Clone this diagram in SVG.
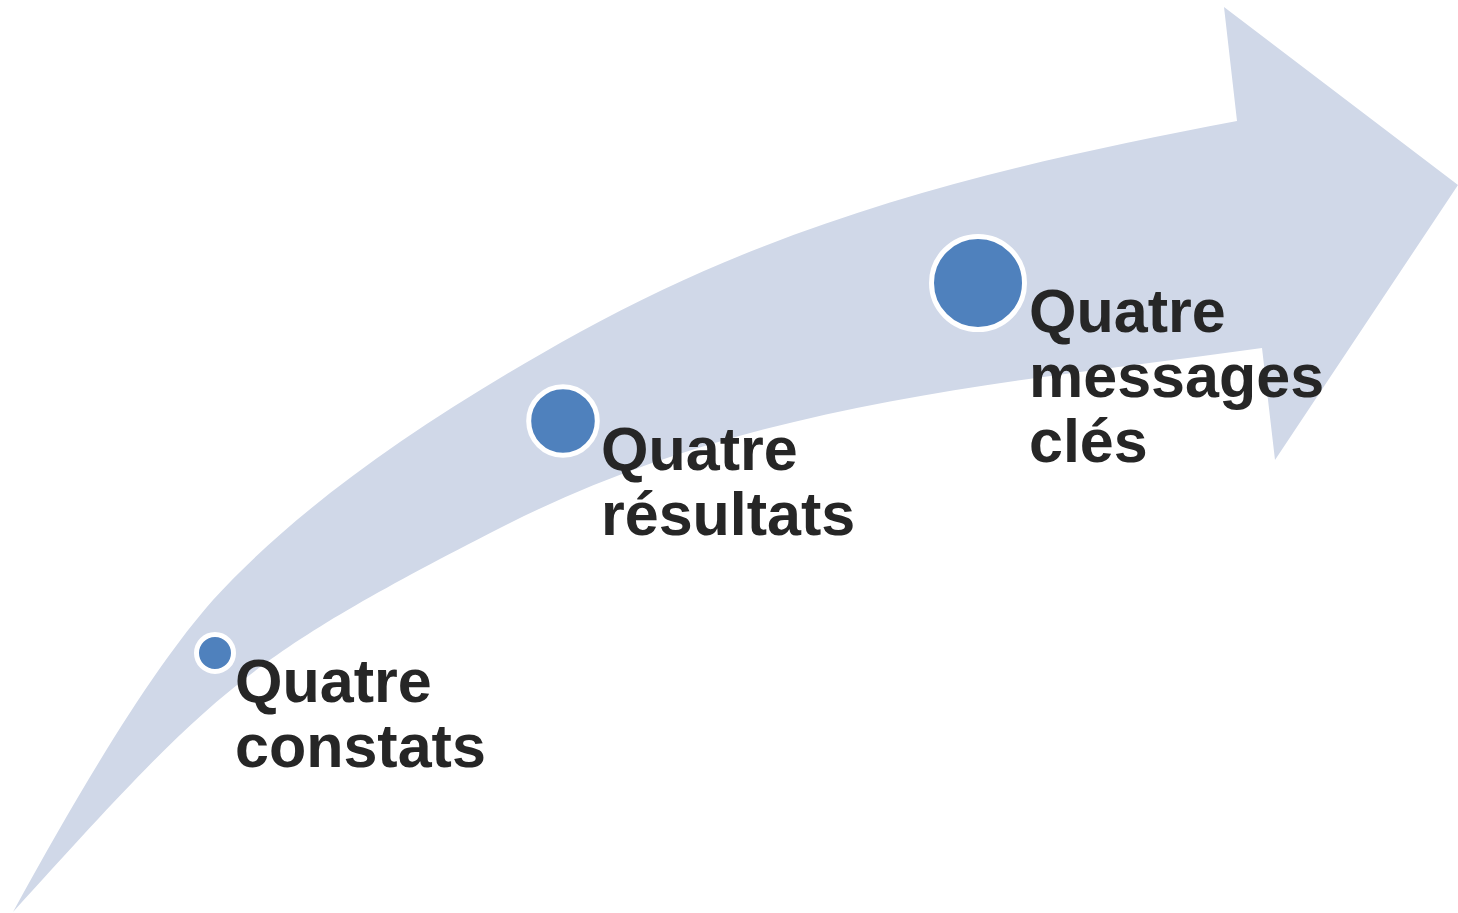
<svg xmlns="http://www.w3.org/2000/svg" width="1458" height="913" viewBox="0 0 1458 913">
  <style>
    .band { fill: #D0D8E8; stroke: none; }
    .dot { fill: #4F81BD; stroke: #FFFFFF; stroke-width: 5; }
    .lbl { font-family: "Liberation Sans", Arial, sans-serif; font-weight: bold; font-size: 61px; fill: #262626; }
  </style>
  <rect width="1458" height="913" fill="#FFFFFF"/>
  <g id="arrow">
    <path class="band" d="M13,912 C95,762 160,660 213,600 C293,512 415,423 580,332 C800,211 1017,163 1237,121 L1224,7 L1458,185 L1275,460 L1262,348 C1012,383 750,400 500,528 C240,661 213,692 13,912 Z"/>
  </g>
  <g id="connectors"/>
  <g id="node-constats">
    <circle class="dot" cx="215" cy="653" r="18.5"/>
    <text class="lbl" x="235" y="702">Quatre</text>
    <text class="lbl" x="235" y="767">constats</text>
  </g>
  <g id="node-resultats">
    <circle class="dot" cx="563" cy="421" r="34.3"/>
    <text class="lbl" x="601" y="470">Quatre</text>
    <text class="lbl" x="601" y="535">résultats</text>
  </g>
  <g id="node-messages">
    <circle class="dot" cx="978" cy="283" r="46.5"/>
    <text class="lbl" x="1029" y="332">Quatre</text>
    <text class="lbl" x="1029" y="397">messages</text>
    <text class="lbl" x="1029" y="462">clés</text>
  </g>
</svg>
